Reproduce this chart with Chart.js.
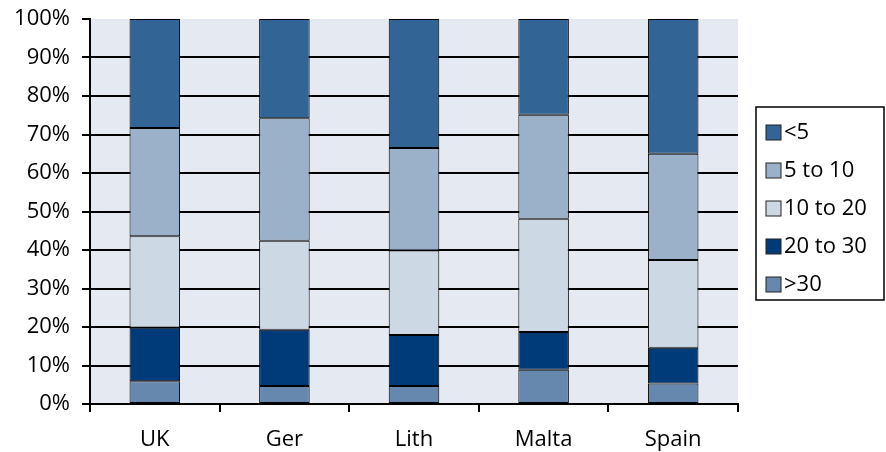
<!DOCTYPE html>
<html>
<head>
<meta charset="utf-8">
<script src="https://cdn.jsdelivr.net/npm/chart.js@4"></script>
<style>
  html, body { margin: 0; padding: 0; background: #ffffff; }
  #wrap { width: 886px; height: 452px; }
</style>
</head>
<body>
<div id="wrap"><canvas id="barChart" width="886" height="452"></canvas></div>
<script>
// Categorias e valores (percentagens, de baixo para cima)
var paises = ['UK', 'Ger', 'Lith', 'Malta', 'Spain'];
var acima30 = [5.9, 4.7, 4.7, 8.9, 5.3];
var de20a30 = [13.9, 14.6, 13.2, 9.8, 9.3];
var de10a20 = [23.8, 23.1, 22.0, 29.4, 22.8];
var de5a10 = [28.1, 31.8, 26.6, 27.0, 27.6];
var abaixo5 = [28.3, 25.8, 33.5, 24.9, 35.0];
var rotulos = ['>30', '20 to 30', '10 to 20', '5 to 10', '<5'];
var ticksY = [0, 10, 20, 30, 40, 50, 60, 70, 80, 90, 100];

var fonte = "'Open Sans', 'DejaVu Sans', sans-serif";

window.onload = function () {
    graficoBarras();
}

// fundo da área do gráfico
var fundoPlugin = {
    id: 'fundo',
    beforeDraw: function (chart) {
        var a = chart.chartArea;
        var ctx = chart.ctx;
        ctx.save();
        ctx.fillStyle = '#e4e9f2';
        ctx.fillRect(a.left, a.top, a.right - a.left, a.bottom - a.top);
        ctx.restore();
    }
};

// legenda desenhada à mão, com moldura
var legendaPlugin = {
    id: 'legendaCaixa',
    afterDraw: function (chart) {
        var ctx = chart.ctx;
        var ds = chart.data.datasets;
        var x0 = 756, y0 = 107, w = 128, h = 193;
        ctx.save();
        ctx.strokeStyle = '#000';
        ctx.lineWidth = 1.5;
        ctx.strokeRect(x0, y0, w, h);
        ctx.font = '22px ' + fonte;
        ctx.textBaseline = 'middle';
        for (var i = 0; i < ds.length; i++) {
            var d = ds[ds.length - 1 - i];
            var cy = 132 + i * 38;
            ctx.fillStyle = d.backgroundColor;
            ctx.fillRect(766, cy - 7, 15, 15);
            ctx.strokeStyle = '#222';
            ctx.lineWidth = 1;
            ctx.strokeRect(766, cy - 7, 15, 15);
            ctx.fillStyle = '#000';
            ctx.fillText(d.label, 784, cy + 1);
        }
        ctx.restore();
    }
};

function graficoBarras() {
    var ctx = document.getElementById("barChart").getContext("2d");
    var series = [acima30, de20a30, de10a20, de5a10, abaixo5];
    var cores = ['#6688ae', '#003b79', '#ccd8e4', '#9bb1ca', '#336496'];
    var datasets = [];
    for (var i = 0; i < series.length; i++) {
        datasets.push({
            label: rotulos[i],
            data: series[i],
            backgroundColor: cores[i],
            borderColor: '#000',
            borderWidth: 1,
            borderSkipped: false,
            categoryPercentage: 1.0,
            barPercentage: 0.39
        });
    }
    new Chart(ctx, {
        type: 'bar',
        data: { labels: paises, datasets: datasets },
        options: {
            responsive: false,
            animation: false,
            layout: { padding: { left: 0, right: 148, top: 19, bottom: 0 } },
            plugins: {
                legend: { display: false },
                tooltip: { enabled: false }
            },
            scales: {
                x: {
                    stacked: true,
                    afterFit: function (axis) { axis.height = 48; },
                    grid: {
                        offset: true,
                        drawOnChartArea: false,
                        color: '#000',
                        lineWidth: 2,
                        tickLength: 8
                    },
                    border: { color: '#000', width: 2 },
                    ticks: {
                        color: '#000',
                        font: { family: fonte, size: 22 },
                        padding: 15
                    }
                },
                y: {
                    stacked: true,
                    min: 0,
                    max: 100,
                    afterFit: function (axis) {
                        axis.width = 90;
                        axis.paddingTop = 0;
                        axis.paddingBottom = 0;
                    },
                    afterBuildTicks: function (axis) {
                        axis.ticks = ticksY.map(function (v) { return { value: v }; });
                    },
                    grid: {
                        color: function (c) {
                            return c.tick && c.tick.value === 100 ? 'rgba(0,0,0,0)' : '#000';
                        },
                        tickColor: '#000',
                        lineWidth: 2,
                        tickLength: 8
                    },
                    border: { color: '#000', width: 2 },
                    ticks: {
                        color: '#000',
                        font: { family: fonte, size: 22 },
                        padding: 12,
                        callback: function (v) { return v + '%'; }
                    }
                }
            }
        },
        plugins: [fundoPlugin, legendaPlugin]
    });
}
</script>
</body>
</html>
